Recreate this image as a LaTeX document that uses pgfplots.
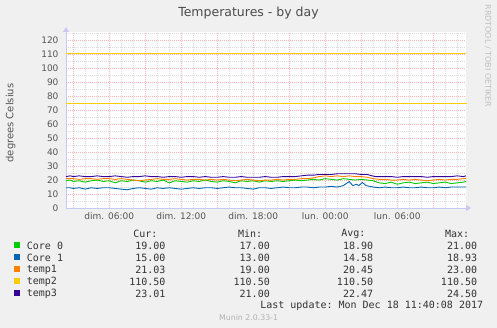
\documentclass[border=0pt]{standalone}
\usepackage{fontspec}
\setmainfont{DejaVu Sans}
\setmonofont{DejaVu Sans Mono}
\usepackage{pgfplots}
\pgfplotsset{compat=1.18}
\usetikzlibrary{arrows.meta}
\definecolor{bgc}{HTML}{F0F0F0}
\definecolor{c0}{HTML}{00CC00}
\definecolor{c1}{HTML}{0066B3}
\definecolor{c2}{HTML}{FF8000}
\definecolor{c3}{HTML}{FFCC00}
\definecolor{c4}{HTML}{330099}
\definecolor{axc}{HTML}{C8C8F4}
\definecolor{majg}{HTML}{F2B4B4}
\definecolor{ming}{HTML}{DCDCDC}
\definecolor{txt}{HTML}{555555}
\begin{document}
\begin{tikzpicture}[x=1pt,y=1pt]
\fill[bgc] (0,0) rectangle (497,328);
\useasboundingbox (0,0) rectangle (497,328);
\begin{axis}[
  at={(66pt,120pt)}, anchor=south west,
  scale only axis, width=400pt, height=176pt,
  xmin=2.4, xmax=35.73, ymin=0, ymax=126,
  axis background/.style={fill=white},
  axis x line=bottom, axis y line=left,
  x axis line style={draw=axc, line width=0.8pt, shorten >=-5pt, -{Triangle[length=5pt,width=6pt]}},
  y axis line style={draw=axc, line width=0.8pt, shorten >=-5pt, -{Triangle[length=5pt,width=6pt]}},
  xtick={3,6,...,33},
  xticklabels={,dim. 06:00,,dim. 12:00,,dim. 18:00,,lun. 00:00,,lun. 06:00,},
  minor xtick={4,5,7,8,10,11,13,14,16,17,19,20,22,23,25,26,28,29,31,32,34,35},
  ytick={0,10,...,120},
  minor ytick={5,15,...,125},
  grid=both,
  major grid style={draw=majg, dash pattern=on 1pt off 1pt, line width=0.5pt},
  minor grid style={draw=ming, dash pattern=on 1pt off 1pt, line width=0.5pt},
  major tick length=0pt, minor tick length=0pt,
  tick label style={font=\fontsize{9}{10}\selectfont, text=txt},
  yticklabel style={xshift=-4pt},
  xticklabel style={yshift=-1.5pt},
  /pgf/number format/assume math mode=true,
  clip=false,
]
\addplot[c3, line width=1pt] coordinates {(2.4,75) (35.8,75)};
\addplot[c3, line width=1pt] coordinates {(2.4,110.5) (35.73,110.5)};
% Core 0
\addplot[c0, line width=0.9pt] coordinates {
(2.4,19.5) (2.75,20) (3,19) (3.5,19.5) (4,18.5) (4.5,19.5) (5,20) (5.5,19) (6,19.5) (6.5,18)
(7,19.5) (7.5,19) (8,20) (8.5,19.5) (9,18.5) (9.5,19.5) (10,19) (10.5,20) (11,18) (11.5,19.5)
(12,19) (12.5,18.5) (13,19.5) (13.5,19) (14,20) (14.5,19) (15,18.5) (15.5,19.5) (16,19) (16.5,18)
(17,19.5) (17.5,19) (18,19.5) (18.5,18.5) (19,19.5) (19.5,19) (20,19.5) (20.5,19) (21,19.5) (21.5,20)
(22,19.5) (22.5,20) (23,20.5) (23.5,20) (24,21) (24.5,20.5) (25,20) (25.5,21) (26,20.5) (26.5,20)
(27,20.5) (27.5,20) (28,19.5) (28.5,18) (29,17.5) (29.5,18.5) (30,17) (30.5,18) (31,18.5) (31.5,17.5)
(32,18) (32.5,18.5) (33,17.5) (33.5,18) (34,18.5) (34.5,17.5) (35,18) (35.5,18.5) (35.73,19)};
% Core 1
\addplot[c1, line width=0.9pt] coordinates {
(2.4,14.5) (2.75,14.5) (3,14) (3.5,14.5) (4,13.5) (4.5,14.5) (5,14) (5.5,14.5) (6,14.5) (6.5,14)
(7,13.5) (7.5,13) (8,14) (8.5,14.5) (9,14) (9.5,13.5) (10,14.5) (10.5,14) (11,14.5) (11.5,14)
(12,13.5) (12.5,14) (13,14.5) (13.5,14) (14,14.5) (14.5,14.5) (15,14) (15.5,14.5) (16,15) (16.5,14.5)
(17,14.5) (17.5,14) (18,13.5) (18.5,14.5) (19,14.5) (19.5,14) (20,14.5) (20.5,15) (21,14.5) (21.5,14.5)
(22,15) (22.5,15) (23,14.5) (23.5,15) (24,15) (24.5,15.5) (25,15) (25.5,16) (26,18.9) (26.3,16)
(26.6,17) (26.8,16) (27.1,18.3) (27.4,16) (27.7,15.5) (28,15) (28.5,14.5) (29,15) (29.5,14.5) (30,14.5)
(30.5,15) (31,14.5) (31.5,14.5) (32,15) (32.5,14.5) (33,14.5) (33.5,15) (34,14.5) (34.5,15) (35,15)
(35.5,15) (35.73,15)};
% temp1
\addplot[c2, line width=0.9pt] coordinates {
(2.4,21) (2.75,21) (3,21) (3.5,20.5) (4,21) (4.5,21) (5,20.5) (5.5,21) (6,21) (6.5,20.5)
(7,21) (7.5,20.5) (8,20) (8.5,19.5) (9,20) (9.5,20.5) (10,21) (10.5,20.5) (11,20.5) (11.5,21)
(12,20.5) (12.5,20) (13,20.5) (13.5,20.5) (14,20) (14.5,20.5) (15,20) (15.5,20.5) (16,20) (16.5,19.5)
(17,20) (17.5,20.5) (18,20) (18.5,19.5) (19,20) (19.5,20) (20,20.5) (20.5,20) (21,20.5) (21.5,20.5)
(22,21) (22.5,21) (23,21.5) (23.5,22.5) (24,23) (24.5,22.5) (25,23) (25.5,22.5) (26,23) (26.5,22.5)
(27,22.5) (27.5,22) (28,21) (28.5,20.5) (29,20.5) (29.5,20) (30,20) (30.5,20.5) (31,20) (31.5,20.5)
(32,20) (32.5,19.5) (33,20) (33.5,20.5) (34,20) (34.5,20.5) (35,20.5) (35.5,21) (35.73,21)};
% temp3
\addplot[c4, line width=0.9pt] coordinates {
(2.4,22.5) (2.75,23) (3,22.5) (3.5,23) (4,22.5) (4.5,22.5) (5,23) (5.5,22.5) (6,22.5) (6.5,23)
(7,22.5) (7.5,22) (8,22.5) (8.5,22.5) (9,23) (9.5,22.5) (10,22.5) (10.5,22) (11,22.5) (11.5,22.5)
(12,22) (12.5,22.5) (13,22.5) (13.5,22) (14,22.5) (14.5,22) (15,22) (15.5,22.5) (16,22) (16.5,22)
(17,22.5) (17.5,22) (18,22) (18.5,22) (19,22.5) (19.5,22) (20,22) (20.5,22.5) (21,22.5) (21.5,22.5)
(22,23) (22.5,23.5) (23,23.5) (23.5,24) (24,24) (24.5,24) (25,24.5) (25.5,24.5) (26,24.5) (26.5,24.5)
(27,24) (27.5,24) (27.9,23) (28.2,22.5) (28.5,22.5) (29,22.5) (29.5,22.5) (30,22) (30.5,22.5) (31,22.5)
(31.5,22.5) (32,22.5) (32.5,22) (33,22.5) (33.5,22.5) (34,22.5) (34.5,22.5) (35,23) (35.5,22.5) (35.73,23)};
\end{axis}
\begin{scope}[every node/.style={inner sep=0pt}]
\node[text=black!70, font=\fontsize{12.5}{14}\selectfont] at (248.5,314.5) {Temperatures - by day};
\node[rotate=90, text=txt, font=\fontsize{10}{12}\selectfont] at (10.5,205) {degrees Celsius};
\node[rotate=-90, text=black!25, font=\fontsize{8}{9}\selectfont] at (488,272) {RRDTOOL / TOBI OETIKER};
\node[text=black!30, font=\fontsize{7.8}{9}\selectfont] at (248.6,10.3) {Munin 2.0.33-1};
\begin{scope}[every node/.append style={font=\ttfamily\fontsize{10}{12}\selectfont, text=black!80}]
\node[anchor=east] at (157.7,94) {Cur:};
\node[anchor=east] at (262.3,94) {Min:};
\node[anchor=east] at (365.7,94) {Avg:};
\node[anchor=east] at (469.3,94) {Max:};
\foreach \y/\c/\n/\a/\b/\m/\x in {82.3/c0/Core 0/19.00/17.00/18.90/21.00, 70.3/c1/Core 1/15.00/13.00/14.58/18.93, 58.3/c2/temp1/21.03/19.00/20.45/23.00, 46.3/c3/temp2/110.50/110.50/110.50/110.50, 34.3/c4/temp3/23.01/21.00/22.47/24.50}{
  \fill[\c] (14,\y-1.9) rectangle (19.5,\y+3.6);
  \node[anchor=west] at (26.7,\y) {\n};
  \node[anchor=east] at (165.7,\y) {\a};
  \node[anchor=east] at (270,\y) {\b};
  \node[anchor=east] at (373.3,\y) {\m};
  \node[anchor=east] at (477.3,\y) {\x};
}
\node[anchor=east] at (483.3,22.3) {Last update: Mon Dec 18 11:40:08 2017};
\end{scope}
\end{scope}
\end{tikzpicture}
\end{document}
